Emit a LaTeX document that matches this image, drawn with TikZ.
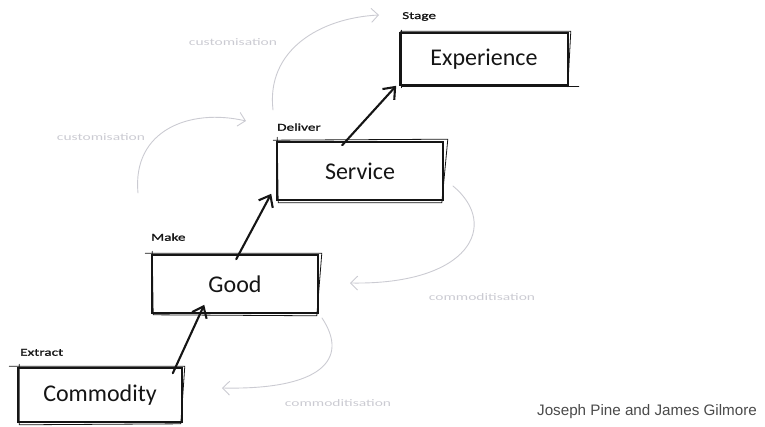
\documentclass[tikz,border=0pt]{standalone}
\usepackage{fontspec}
\setmainfont{Carlito}
\newfontfamily\creditfont{Liberation Sans}
\newfontfamily\wideface[FakeStretch=1.55]{Carlito}
\newfontfamily\widebold[FakeStretch=1.45,FakeBold=1.2]{Carlito}
\usetikzlibrary{arrows.meta,calc}
\definecolor{ink}{HTML}{151515}
\definecolor{pale}{HTML}{CBCBD2}
\definecolor{credit}{HTML}{4A4A4A}
\tikzset{
  stagebox/.style={draw=ink, line width=1.6pt, minimum height=54pt, inner sep=0pt,
    font=\fontsize{24}{28}\selectfont, text=ink},
  redraw/.style={draw=ink, line width=0.8pt, line cap=round},
  tag/.style={font=\widebold\fontsize{10.5}{12}\selectfont, text=ink, anchor=south west, inner sep=0pt},
  climb/.style={draw=ink, line width=2.1pt, line cap=round,
    -{Straight Barb[length=10pt,width=16pt,line width=2.1pt]}},
  drift/.style={draw=pale, line width=0.9pt, line cap=round,
    -{Straight Barb[length=7pt,width=14pt,line width=0.9pt]}},
  driftlabel/.style={font=\wideface\fontsize{10}{12}\selectfont, text=pale, inner sep=0pt}
}
\begin{document}
\begin{tikzpicture}[x=1pt,y=-1pt]
\useasboundingbox (0,0) rectangle (765,427);

% the four stages
\node[stagebox, minimum width=164pt] (com) at (100,395) {Commodity};
\node[stagebox, minimum width=166pt, minimum height=58pt] (good) at (235,284) {Good};
\node[stagebox, minimum width=166pt, minimum height=58pt] (serv) at (360,171) {Service};
\node[stagebox, minimum width=168pt, minimum height=52pt] (exp) at (484,59) {Experience};

% second, slightly offset strokes for a hand-drawn look
\draw[redraw] ([shift={(-8,-1)}]com.north west) -- ([shift={(2,-1)}]com.north east)
  -- ([shift={(-2,1)}]com.south east) -- ([shift={(2,2)}]com.south west) -- ([shift={(2,-3)}]com.north west);
\draw[redraw] ([shift={(-6,-1)}]good.north west) -- ([shift={(3,-1)}]good.north east)
  -- ([shift={(-2,2)}]good.south east) -- ([shift={(2,1)}]good.south west) -- ([shift={(1,-3)}]good.north west);
\draw[redraw] ([shift={(-3,-1)}]serv.north west) -- ([shift={(4,-2)}]serv.north east)
  -- ([shift={(-2,2)}]serv.south east) -- ([shift={(2,2)}]serv.south west) -- ([shift={(1,-4)}]serv.north west);
\draw[redraw] ([shift={(1,-1)}]exp.north west) -- ([shift={(2,-1)}]exp.north east)
  -- ([shift={(-1,1)}]exp.south east);
\draw[redraw] ([shift={(2,1)}]exp.south west) -- ([shift={(10,1)}]exp.south east);
\draw[redraw] ([shift={(2,2)}]exp.south west) -- ([shift={(2,-2)}]exp.north west);

% stage verbs
\node[tag] (extract) at (20,356) {Extract};
\node[tag] (make) at (151,241) {Make};
\node[tag] (deliver) at (277,131) {Deliver};
\node[tag] (stage) at (402,21) {Stage};

% progression arrows
\draw[climb] ([shift={(-10,6)}]com.north east) -- ([shift={(53,-9)}]good.south west);
\draw[climb] ([shift={(85,5)}]good.north west) -- ([shift={(-5,-7)}]serv.south west);
\draw[climb] ([shift={(66,4)}]serv.north west) -- ([shift={(-3,0)}]exp.south west);

% customisation: moving up
\coordinate (cu1s) at (138,193);
\coordinate (cu1e) at (246,121);
\draw[drift] (cu1s) .. controls (132,130) and (190,108) .. (cu1e);
\node[driftlabel] (cu1) at (101,137) {customisation};

\coordinate (cu2s) at (273,110);
\coordinate (cu2e) at (379,15);
\draw[drift] (cu2s) .. controls (266,50) and (320,18) .. (cu2e);
\node[driftlabel] (cu2) at (233,42) {customisation};

% commoditisation: sliding down
\coordinate (co1s) at (453,186);
\coordinate (co1e) at (350,283);
\draw[drift] (co1s) .. controls (500,225) and (470,285) .. (co1e);
\node[driftlabel] (co1) at (482,297) {commoditisation};

\coordinate (co2s) at (322,318);
\coordinate (co2e) at (222,388);
\draw[drift] (co2s) .. controls (350,360) and (320,390) .. (co2e);
\node[driftlabel] (co2) at (338,403) {commoditisation};

% attribution
\node[font=\creditfont\fontsize{15.2}{17}\selectfont, text=credit, inner sep=0pt] (credit) at (647,412)
  {Joseph Pine and James Gilmore};
\end{tikzpicture}
\end{document}
